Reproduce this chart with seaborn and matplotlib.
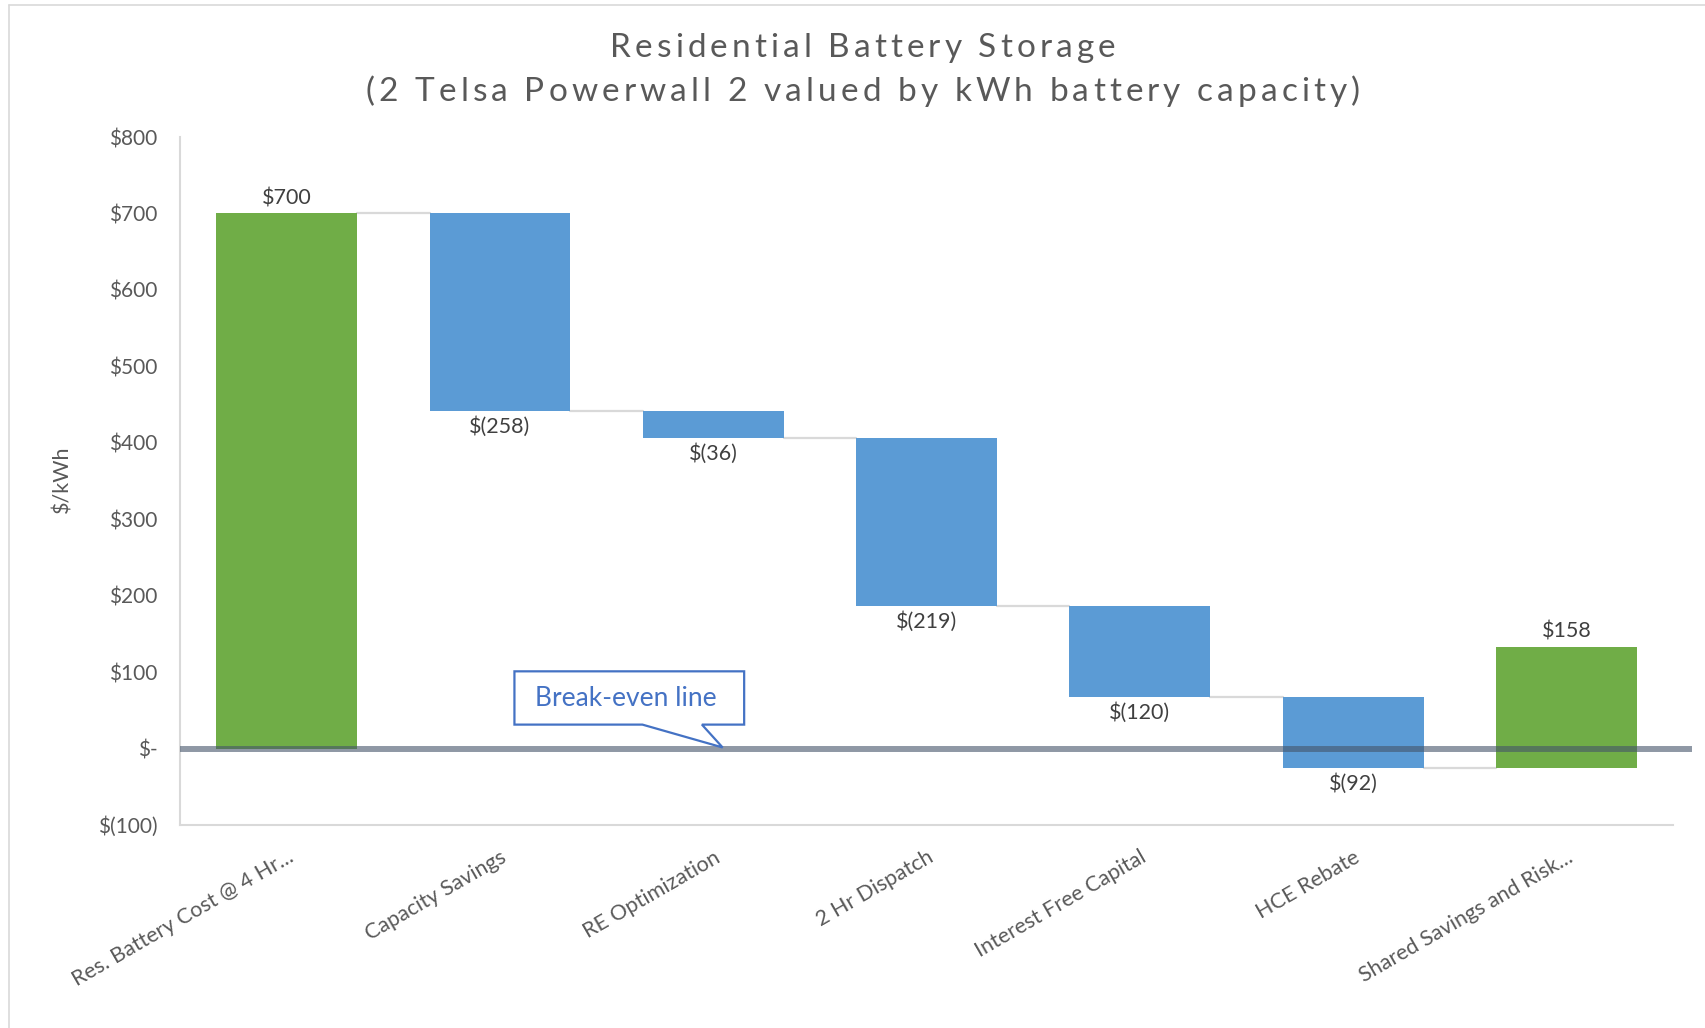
import numpy as np
import pandas as pd
import matplotlib
matplotlib.use("Agg")
import matplotlib.pyplot as plt
from matplotlib.patches import Polygon
from matplotlib.font_manager import FontProperties
import seaborn as sns

# waterfall data ($/kWh)
steps = ["Res. Battery Cost @ 4 Hr...", "Capacity Savings", "RE Optimization",
         "2 Hr Dispatch", "Interest Free Capital", "HCE Rebate",
         "Shared Savings and Risk..."]
changes = [700, -258, -36, -219, -120, -92, 158]
kinds = ["total", "change", "change", "change", "change", "change", "total"]

GREEN = "#70AD47"
BLUE = "#5B9BD5"
GREY_TXT = "#595959"

# running bottoms: first bar starts at 0, last total bar starts at the running sum
bottoms = []
running = 0
for i, v in enumerate(changes):
    bottoms.append(running)
    if i < len(changes) - 1:
        running += v
df = pd.DataFrame({"step": steps, "height": changes, "bottom": bottoms, "kind": kinds})
df["top"] = df["bottom"] + df["height"]

sns.set_style("white")
plt.rcParams["font.family"] = ["Lato", "DejaVu Sans"]

fig = plt.figure(figsize=(17.06, 10.28), dpi=100)
ax = fig.add_axes([0.1055, 0.1975, 0.8752, 0.6692])

for kind, color in [("total", GREEN), ("change", BLUE)]:
    sub = df[df["kind"] == kind]
    sns.barplot(data=sub, x="step", y="height", order=steps, color=color,
                saturation=1, errorbar=None, width=0.66, bottom=sub["bottom"].values,
                linewidth=0, ax=ax, zorder=2)

# connector lines between bars
w = 0.66
for i in range(len(df) - 1):
    level = df["top"].iloc[i]
    ax.plot([i + w / 2, i + 1 - w / 2], [level, level], color="#D9D9D9", lw=1.6, zorder=1)

# data labels
for i, r in df.iterrows():
    v = r["height"]
    if v >= 0:
        ax.text(i, r["top"] + 7, f"${v:,.0f}", ha="center", va="bottom",
                fontsize=15.5, color="#404040")
    else:
        ax.text(i, r["top"] - 7, f"$({-v:,.0f})", ha="center", va="top",
                fontsize=15.5, color="#404040")

# break-even line
ax.plot([-0.5, 6.59], [0, 0], color="#44546A", alpha=0.6, lw=4.3,
        solid_capstyle="butt", zorder=5, clip_on=False)

# callout
call = Polygon([(1.068, 101), (2.145, 101), (2.145, 31.3), (1.947, 31.3), (2.044, 1.4),
                (1.668, 31.3), (1.068, 31.3)], closed=True, facecolor="white",
               edgecolor="#4472C4", lw=1.6, zorder=6)
ax.add_patch(call)
ax.text(1.59, 66, "Break-even line", ha="center", va="center", fontsize=19,
        color="#4472C4", zorder=7)

ax.set_xlim(-0.5, 6.5)
ax.set_ylim(-100, 800)
yt = list(range(-100, 801, 100))
ylabels = []
for t in yt:
    if t < 0:
        ylabels.append(f"$({-t})")
    elif t == 0:
        ylabels.append("$-")
    else:
        ylabels.append(f"${t}")
ax.set_yticks(yt, labels=ylabels)
ax.tick_params(axis="y", length=0, pad=16, labelsize=15, labelcolor=GREY_TXT)
ax.set_xticks(range(len(steps)), labels=steps)
ax.tick_params(axis="x", length=0, pad=16, labelsize=15.5, labelcolor=GREY_TXT,
               labelrotation=30)
ax.set_xlabel("")
ax.set_ylabel("")
for s in ["top", "right"]:
    ax.spines[s].set_visible(False)
for s in ["left", "bottom"]:
    ax.spines[s].set_color("#D9D9D9")
    ax.spines[s].set_linewidth(1.5)

fig.text(0.0363, 0.534, "$/kWh", rotation=90, ha="center", va="center",
         fontsize=15.5, color=GREY_TXT)

fig.canvas.draw()
for lbl in ax.get_xticklabels():
    lbl.set_ha("right")
    lbl.set_rotation_mode("anchor")


def spaced_title(s, xc, yc, size, track_px):
    # Excel-style expanded character spacing
    renderer = fig.canvas.get_renderer()
    prop = FontProperties(family=["Lato", "DejaVu Sans"], size=size)
    def width(t):
        if not t:
            return 0.0
        return renderer.get_text_width_height_descent(t, prop, ismath=False)[0]
    total = width(s) + track_px * (len(s) - 1)
    x0 = xc * fig.bbox.width - total / 2
    for k, ch in enumerate(s):
        xp = x0 + width(s[:k]) + track_px * k
        fig.text(xp / fig.bbox.width, yc, ch, ha="left", va="center",
                 fontproperties=prop, color=GREY_TXT)


spaced_title("Residential Battery Storage", 0.5057, 0.953, 24, 4.1)
spaced_title("(2 Telsa Powerwall 2 valued by kWh battery capacity)", 0.5057, 0.9105, 24, 4.1)

# chart area border
fig.add_artist(plt.Line2D([0.005, 0.005], [0, 0.995], color="#D9D9D9", lw=1.2))
fig.add_artist(plt.Line2D([0.005, 1], [0.995, 0.995], color="#D9D9D9", lw=1.2))

fig.savefig("out.png", dpi=100, facecolor="white")
